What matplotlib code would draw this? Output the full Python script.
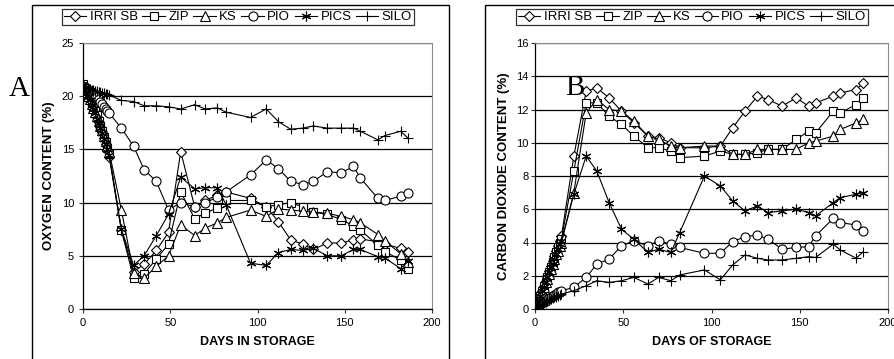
import matplotlib
matplotlib.use("Agg")
import matplotlib.pyplot as plt
import matplotlib.patches as mpatches

plt.rcParams['font.family'] = ['Liberation Sans', 'DejaVu Sans']

# sampling days: daily for the first two weeks, then roughly weekly
days = list(range(0, 16)) + [22, 29, 35, 42, 49, 56, 64, 70, 77, 82, 96, 105,
                            112, 119, 126, 132, 140, 148, 155, 159, 169, 173, 182, 186]

names = ["IRRI SB", "ZIP", "KS", "PIO", "PICS", "SILO"]

# panel A - oxygen (%)
o2_irri = [21.0, 20.7, 20.4, 20.1, 19.7, 19.3, 18.9, 18.5, 18.0, 17.6, 17.1, 16.6, 16.1, 15.5, 14.9, 14.3,
           7.4, 3.5, 4.2, 5.5, 7.2, 14.8, 9.6, 10.2, 10.7, 11.0, 10.4, 9.6, 8.2, 6.5, 6.1, 5.6,
           6.2, 6.2, 6.5, 6.6, 6.3, 6.1, 5.7, 5.4]
o2_zip = [21.1, 20.8, 20.5, 20.2, 19.8, 19.4, 19.0, 18.6, 18.2, 17.7, 17.2, 16.7, 16.2, 15.7, 15.1, 14.6,
          7.4, 2.9, 3.3, 4.7, 6.1, 11.0, 8.5, 9.0, 9.5, 10.2, 10.2, 9.6, 9.8, 10.0, 9.6, 9.1,
          8.9, 8.4, 7.8, 7.4, 6.0, 5.4, 4.6, 3.8]
o2_ks = [20.9, 20.7, 20.4, 20.0, 19.7, 19.3, 18.9, 18.5, 18.1, 17.7, 17.2, 16.8, 16.3, 15.8, 15.3, 14.8,
         9.3, 3.4, 2.9, 4.0, 5.0, 7.9, 6.9, 7.6, 8.1, 8.6, 9.3, 8.7, 9.4, 9.3, 9.2, 9.1,
         9.0, 8.7, 8.4, 8.1, 7.0, 6.4, 5.2, 4.4]
o2_pio = [21.0, 20.9, 20.8, 20.6, 20.5, 20.4, 20.2, 20.1, 19.9, 19.7, 19.5, 19.3, 19.0, 18.8, 18.6, 18.4,
          17.0, 15.3, 13.1, 12.0, 9.3, 10.0, 9.6, 10.0, 10.5, 11.0, 12.6, 14.0, 13.2, 12.0, 11.7, 12.0,
          12.9, 12.8, 13.4, 12.3, 10.4, 10.2, 10.6, 10.9]
o2_pics = [21.0, 20.6, 20.3, 19.9, 19.6, 19.2, 18.8, 18.4, 17.9, 17.5, 17.0, 16.5, 16.0, 15.5, 15.0, 14.5,
           7.5, 4.1, 5.0, 6.9, 8.9, 12.4, 11.3, 11.4, 11.4, 9.8, 4.3, 4.1, 5.3, 5.6, 5.5, 5.7,
           5.0, 5.0, 5.6, 5.6, 4.9, 4.8, 3.8, 4.5]
o2_silo = [21.0, 20.9, 20.8, 20.8, 20.7, 20.6, 20.6, 20.5, 20.5, 20.4, 20.4, 20.3, 20.3, 20.2, 20.2, 20.1,
           19.6, 19.5, 19.1, 19.1, 19.0, 18.8, 19.2, 18.8, 18.9, 18.5, 18.0, 18.8, 17.6, 16.9, 17.0, 17.2,
           17.0, 17.0, 17.0, 16.7, 15.9, 16.3, 16.7, 16.1]

# panel B - carbon dioxide (%)
co2_irri = [0.0, 0.3, 0.6, 0.9, 1.1, 1.4, 1.7, 2.0, 2.3, 2.6, 2.9, 3.2, 3.5, 3.8, 4.1, 4.4,
            9.2, 13.1, 13.3, 12.7, 11.9, 11.2, 10.4, 10.3, 10.0, 9.7, 9.7, 9.8, 10.9, 11.9, 12.8, 12.6,
            12.2, 12.7, 12.2, 12.4, 12.8, 13.0, 13.2, 13.6]
co2_zip = [0.0, 0.2, 0.5, 0.8, 1.1, 1.4, 1.6, 1.9, 2.2, 2.5, 2.8, 3.1, 3.4, 3.7, 4.0, 4.2,
           8.3, 12.4, 12.4, 11.6, 11.1, 10.4, 9.7, 9.7, 9.5, 9.1, 9.2, 9.5, 9.3, 9.3, 9.4, 9.6,
           9.6, 10.2, 10.7, 10.6, 11.9, 11.8, 12.3, 12.7]
co2_ks = [0.0, 0.2, 0.5, 0.7, 1.0, 1.3, 1.6, 1.8, 2.1, 2.4, 2.7, 3.0, 3.3, 3.5, 3.8, 4.0,
          7.0, 11.8, 12.6, 12.0, 11.9, 11.3, 10.4, 10.2, 9.8, 9.7, 9.8, 9.8, 9.3, 9.3, 9.6, 9.6,
          9.6, 9.6, 10.0, 10.1, 10.4, 10.8, 11.2, 11.4]
co2_pio = [0.0, 0.1, 0.2, 0.3, 0.4, 0.45, 0.5, 0.6, 0.65, 0.7, 0.8, 0.85, 0.9, 1.0, 1.05, 1.1,
           1.3, 1.9, 2.7, 3.0, 3.8, 4.1, 3.8, 4.1, 3.9, 3.7, 3.35, 3.35, 4.05, 4.35, 4.45, 4.2,
           3.6, 3.7, 3.75, 4.4, 5.45, 5.2, 5.05, 4.7]
co2_pics = [0.0, 0.3, 0.5, 0.8, 1.1, 1.3, 1.6, 1.9, 2.2, 2.5, 2.7, 3.0, 3.3, 3.6, 3.9, 4.1,
            6.9, 9.2, 8.3, 6.4, 4.8, 4.2, 3.4, 3.6, 3.4, 4.6, 8.0, 7.4, 6.5, 5.9, 6.2, 5.8,
            5.9, 6.0, 5.8, 5.6, 6.4, 6.7, 6.9, 7.0]
co2_silo = [0.0, 0.1, 0.2, 0.25, 0.3, 0.4, 0.45, 0.5, 0.55, 0.6, 0.65, 0.7, 0.75, 0.8, 0.85, 0.9,
            1.1, 1.4, 1.7, 1.6, 1.7, 1.9, 1.5, 1.9, 1.7, 2.05, 2.35, 1.75, 2.65, 3.25, 3.05, 2.95,
            2.95, 3.05, 3.15, 3.1, 3.9, 3.55, 3.05, 3.45]

markers = ['D', 's', '^', 'o', (6, 2, 0), '+']
msizes = [5.0, 6.0, 6.5, 6.5, 7.0, 7.0]

W, H = 894, 359
fig = plt.figure(figsize=(W / 100, H / 100), dpi=100)


def fx(px):
    return px / W


def fy(py):
    return 1 - py / H


# outer frames of the two panels
for x0, x1 in [(32, 449), (485, 900)]:
    fig.add_artist(mpatches.Rectangle((fx(x0), fy(400)), fx(x1 - x0), (400 - 5) / H,
                                      transform=fig.transFigure, fill=False,
                                      edgecolor='black', linewidth=1.0))


def panel(left, right, series, ymax, ylabel, xlabel, legx, letter, letpos, ylab_px, ypad):
    ax = fig.add_axes([fx(left), fy(309), fx(right - left), (309 - 43) / H])
    for vals, m, ms, nm in zip(series, markers, msizes, names):
        ax.plot(days, vals, color='black', linewidth=0.8, marker=m, markersize=ms,
                markerfacecolor='white', markeredgecolor='black', markeredgewidth=0.8,
                label=nm)
    ax.set_xlim(0, 200)
    ax.set_ylim(0, ymax)
    ax.set_xticks([0, 50, 100, 150, 200])
    ax.yaxis.grid(True, color='black', linewidth=0.9)
    ax.set_axisbelow(True)
    for s in ['top', 'right']:
        ax.spines[s].set_color('#8c8c8c')
    ax.spines['left'].set_linewidth(0.9)
    ax.spines['bottom'].set_linewidth(0.9)
    ax.tick_params(labelsize=8, length=3, width=0.8, colors='#333333', labelcolor='black')
    ax.tick_params(axis='y', pad=ypad)
    ax.set_xlabel(xlabel, fontsize=9, fontweight='bold', labelpad=6)
    ax.set_ylabel(ylabel, fontsize=9.5, fontweight='bold')
    ax.yaxis.set_label_coords((ylab_px - left) / (right - left), 0.5)
    leg = ax.legend(loc='upper center', bbox_to_anchor=(fx(legx), fy(9)),
                    bbox_transform=fig.transFigure, ncol=6, fontsize=9.5,
                    frameon=True, fancybox=False, edgecolor='black',
                    handlelength=1.7, handletextpad=0.25, columnspacing=0.35,
                    borderpad=0.15, borderaxespad=0)
    leg.get_frame().set_linewidth(0.9)
    fig.text(fx(letpos[0]), fy(letpos[1]), letter, fontsize=21,
             family='Liberation Serif', ha='left', va='baseline')
    return ax


panel(83, 432, [o2_irri, o2_zip, o2_ks, o2_pio, o2_pics, o2_silo], 25,
      "OXYGEN CONTENT (%)", "DAYS IN STORAGE", 238, "A", (9, 96), 55, 3.5)
axb = panel(535, 888, [co2_irri, co2_zip, co2_ks, co2_pio, co2_pics, co2_silo], 16,
            "CARBON DIOXIDE CONTENT (%)", "DAYS OF STORAGE", 692, "B", (565, 95), 510, 1.5)
axb.set_yticks(range(0, 17, 2))

fig.savefig("out.png", dpi=100)
